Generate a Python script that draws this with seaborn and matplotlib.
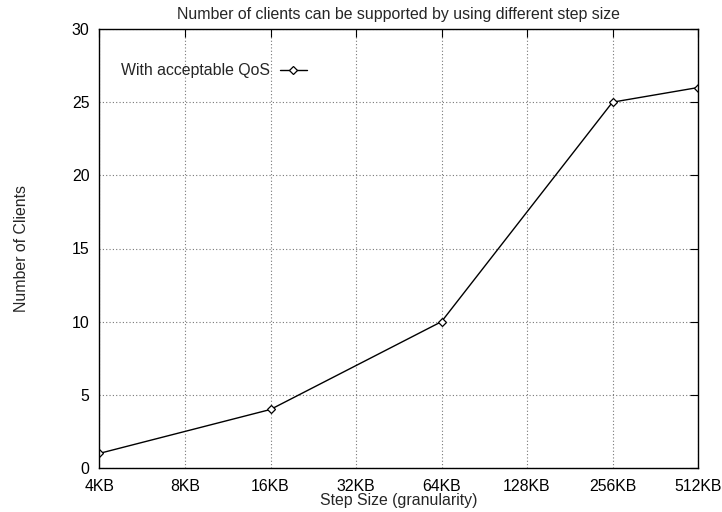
import matplotlib
matplotlib.use("Agg")
import matplotlib.pyplot as plt
import seaborn as sns
import pandas as pd

step_kb = [4, 16, 64, 256, 512]
clients = [1, 4, 10, 25, 26]
tick_kb = [4, 8, 16, 32, 64, 128, 256, 512]
tick_labels = ["4KB", "8KB", "16KB", "32KB", "64KB", "128KB", "256KB", "512KB"]
series_name = "With acceptable QoS"

sns.set_theme(style="white")
plt.rcParams['font.family'] = ['Liberation Sans', 'DejaVu Sans']

FS = 11.45

df = pd.DataFrame({"step": step_kb, "clients": clients, "series": series_name})

fig = plt.figure(figsize=(7.22, 5.12), dpi=100)
L, R, T, B = 99.5, 698.0, 29.0, 468.0
ax = fig.add_axes([L/722, 1-B/512, (R-L)/722, (B-T)/512])

sns.lineplot(data=df, x="step", y="clients", hue="series", palette=["black"],
             marker="D", markersize=3.8, markerfacecolor="white", markeredgecolor="black",
             markeredgewidth=0.9, linewidth=1.0, ax=ax)

ax.set_xscale("log", base=2)
ax.set_xlim(4, 512)
ax.set_ylim(0, 30)
ax.set_xticks(tick_kb)
ax.set_xticklabels(tick_labels)
ax.minorticks_off()
ax.set_yticks([0, 5, 10, 15, 20, 25, 30])

ax.grid(True, color="#777777", linestyle=(0, (1, 2)), linewidth=0.8)
for s in ax.spines.values():
    s.set_color("black")
    s.set_linewidth(1.0)
ax.tick_params(direction="in", length=6, width=0.8, top=True, right=True,
               labelsize=FS, colors="black")
ax.tick_params(axis="y", pad=7.2)
ax.tick_params(axis="x", pad=8.0)

ax.set_title("Number of clients can be supported by using different step size",
             fontsize=FS, pad=7)
ax.set_xlabel("Step Size (granularity)", fontsize=FS, labelpad=-0.5)
ax.set_ylabel("Number of Clients", fontsize=FS, va="center")
ax.yaxis.set_label_coords((22 - L) / (R - L), 0.5)

leg = ax.legend(loc="center left", bbox_to_anchor=((121 - L) / (R - L), (B - 71) / (B - T)),
                frameon=False, markerfirst=False, fontsize=FS, handlelength=1.7,
                handletextpad=0.6, borderpad=0, borderaxespad=0)

fig.savefig("out.png", dpi=100)
